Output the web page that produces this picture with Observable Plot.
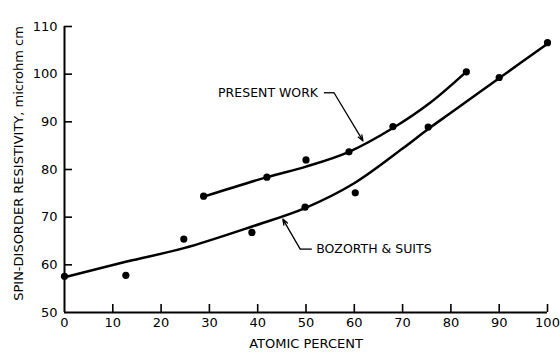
<!DOCTYPE html>
<html>
<head>
<meta charset="utf-8">
<script src="https://cdn.jsdelivr.net/npm/d3@7"></script>
<script src="https://cdn.jsdelivr.net/npm/@observablehq/plot@0.6"></script>
<style>
  body { margin: 0; background: #fff; }
  svg { display: block; }
</style>
</head>
<body>
<div id="chart"></div>
<script>
// Axis ticks
const xTicks = [0, 10, 20, 30, 40, 50, 60, 70, 80, 90, 100];
const yTicks = [50, 60, 70, 80, 90, 100, 110];

// Measured points: present work
const presentWorkX = [28.8, 41.9, 50.0, 58.9, 68.0, 83.2];
const presentWorkY = [74.4, 78.4, 82.0, 83.7, 89.0, 100.5];

// Measured points: Bozorth & Suits
const bozorthX = [0, 12.7, 24.7, 38.8, 49.8, 60.2, 75.3, 90.0, 100];
const bozorthY = [57.6, 57.8, 65.4, 66.8, 72.1, 75.1, 88.9, 99.3, 106.6];

// Smoothed curves drawn through each data set
const presentWorkCurveX = [28.8, 41.9, 50.0, 58.9, 68.0, 75.7, 83.5];
const presentWorkCurveY = [74.3, 78.4, 80.6, 83.7, 88.7, 94.0, 100.8];
const bozorthCurveX = [0, 12.9, 24.7, 39.0, 49.8, 59.8, 70.0, 75.3, 80.0, 90.2, 100];
const bozorthCurveY = [57.4, 60.7, 63.5, 68.1, 71.9, 77.0, 84.4, 88.5, 91.9, 99.3, 106.4];

// Curve labels with their leader lines (data units)
const labelNames = ["PRESENT WORK", "BOZORTH & SUITS"];
const labelX = [52.5, 52.1];
const labelY = [96.1, 63.3];
const labelAnchor = ["end", "start"];
const leaderStartX = [53.7, 51.2];
const leaderBendX = [55.8, 48.8];
const leaderBendY = [96.1, 63.3];
const leaderTipX = [61.8, 45.2];
const leaderTipY = [86.0, 69.6];

const yLabel = "SPIN-DISORDER RESISTIVITY, microhm cm";
const xLabel = "ATOMIC PERCENT";

const zip = (xs, ys) => xs.map((x, i) => ({x, y: ys[i]}));
const presentWork = zip(presentWorkX, presentWorkY);
const bozorth = zip(bozorthX, bozorthY);
const presentWorkCurve = zip(presentWorkCurveX, presentWorkCurveY);
const bozorthCurve = zip(bozorthCurveX, bozorthCurveY);
const labels = labelNames.map((name, i) => ({name, x: labelX[i], y: labelY[i], anchor: labelAnchor[i]}));
const stubs = labelNames.map((name, i) => ({x1: leaderStartX[i], x2: leaderBendX[i], y: leaderBendY[i]}));
const arrows = labelNames.map((name, i) => ({x1: leaderBendX[i], y1: leaderBendY[i], x2: leaderTipX[i], y2: leaderTipY[i]}));

const width = 560, height = 353;
const marginLeft = 64, marginRight = 13, marginTop = 26, marginBottom = 41;
const frameW = width - marginLeft - marginRight;
const frameH = height - marginTop - marginBottom;
const tickLen = 8;

const chart = Plot.plot({
  width, height, marginLeft, marginRight, marginTop, marginBottom,
  style: {fontFamily: "'DejaVu Sans', sans-serif", fontSize: "13px", color: "#000", background: "#fff"},
  x: {domain: [0, 100]},
  y: {domain: [50, 110]},
  marks: [
    // axis lines
    Plot.ruleX([0], {stroke: "#000", strokeWidth: 2}),
    Plot.ruleY([50], {stroke: "#000", strokeWidth: 2}),
    // inward ticks
    Plot.tickY(yTicks.filter(d => d > 50), {y: d => d, stroke: "#000", strokeWidth: 1.6, insetRight: frameW - tickLen}),
    Plot.tickX(xTicks.filter(d => d > 0), {x: d => d, stroke: "#000", strokeWidth: 1.6, insetTop: frameH - tickLen}),
    Plot.axisX({ticks: xTicks, tickSize: 0, tickPadding: 5, label: null, fontSize: 13}),
    Plot.axisY({ticks: yTicks, tickSize: 0, tickPadding: 7, label: null, fontSize: 13}),
    // axis titles
    Plot.text([xLabel], {text: d => d, frameAnchor: "bottom", lineAnchor: "middle", textAnchor: "middle", dy: 31, fontSize: 13}),
    Plot.text([yLabel], {text: d => d, frameAnchor: "left", textAnchor: "middle", lineAnchor: "middle", dx: -46, dy: -6, rotate: -90, fontSize: 13}),
    // curves and points
    Plot.line(bozorthCurve, {x: "x", y: "y", curve: "catmull-rom", stroke: "#000", strokeWidth: 2.5}),
    Plot.line(presentWorkCurve, {x: "x", y: "y", curve: "catmull-rom", stroke: "#000", strokeWidth: 2.5}),
    Plot.dot(bozorth, {x: "x", y: "y", r: 3.6, fill: "#000", stroke: null}),
    Plot.dot(presentWork, {x: "x", y: "y", r: 3.6, fill: "#000", stroke: null}),
    // curve labels
    Plot.link(stubs, {x1: "x1", x2: "x2", y1: "y", y2: "y", stroke: "#000", strokeWidth: 1.3}),
    Plot.arrow(arrows, {x1: "x1", y1: "y1", x2: "x2", y2: "y2", stroke: "#000", strokeWidth: 1.3, headLength: 7, headAngle: 40}),
    Plot.text(labels.filter(d => d.anchor === "end"), {x: "x", y: "y", text: "name", textAnchor: "end", fontSize: 12.5}),
    Plot.text(labels.filter(d => d.anchor === "start"), {x: "x", y: "y", text: "name", textAnchor: "start", fontSize: 12.5})
  ]
});
document.getElementById("chart").append(chart);
</script>
</body>
</html>
